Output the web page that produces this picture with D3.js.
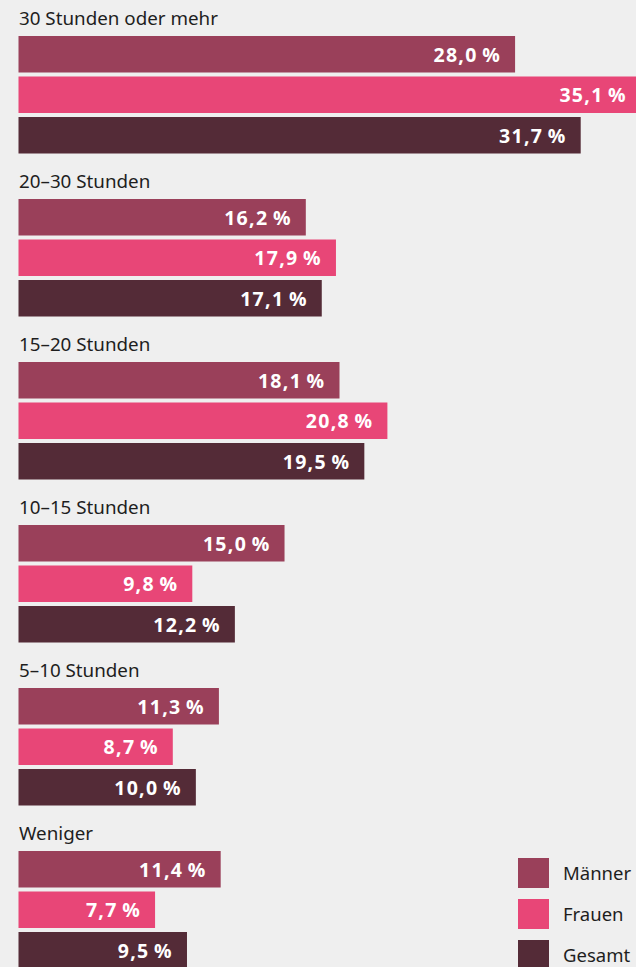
<!DOCTYPE html>
<html>
<head>
<meta charset="utf-8">
<script src="https://cdn.jsdelivr.net/npm/d3@7"></script>
<style>
  html, body { margin: 0; padding: 0; background: #efefef; }
  svg { display: block; }
</style>
</head>
<body>
<div id="chart"></div>
<script>
var categories = ["30 Stunden oder mehr", "20–30 Stunden", "15–20 Stunden", "10–15 Stunden", "5–10 Stunden", "Weniger"];
var series = ["Männer", "Frauen", "Gesamt"];
var maenner = [28.0, 16.2, 18.1, 15.0, 11.3, 11.4];
var frauen = [35.1, 17.9, 20.8, 9.8, 8.7, 7.7];
var gesamt = [31.7, 17.1, 19.5, 12.2, 10.0, 9.5];
var colors = ["#9a405a", "#e84677", "#542b37"];

window.onload = function() {
	var width = 636, height = 967;

	var svg = d3.select("#chart")
		.append("svg")
		.attr("width", width)
		.attr("height", height);

	var values = [maenner, frauen, gesamt];

	// one band per category, bars inside
	var y = d3.scaleBand()
		.domain(categories)
		.range([36, 36 + 163 * 6])
		.paddingInner(0);

	var x = d3.scaleLinear()
		.domain([0, 35.1])
		.range([18.5, 641]);

	var fmt = function(v) { return d3.format(".1f")(v).replace(".", ",") + "\u2009%"; };

	var groups = svg.selectAll("g.group")
		.data(categories)
		.enter().append("g")
		.attr("class", "group")
		.attr("transform", function(d) { return "translate(0," + y(d) + ")"; });

	groups.append("text")
		.attr("x", 19)
		.attr("y", -11)
		.attr("font-family", "'Noto Sans', sans-serif")
		.attr("font-size", 18.8)
		.attr("fill", "#1e1e1e")
		.text(function(d) { return d; });

	groups.each(function(cat, ci) {
		var g = d3.select(this);
		series.forEach(function(s, si) {
			var v = values[si][ci];
			var top = si * 40.5;
			g.append("rect")
				.attr("x", x(0))
				.attr("y", top)
				.attr("width", x(v) - x(0))
				.attr("height", 36.5)
				.attr("fill", colors[si]);
			g.append("text")
				.attr("x", x(v) - 14)
				.attr("y", top + 25.5)
				.attr("text-anchor", "end")
				.attr("font-family", "'Open Sans', sans-serif")
				.attr("font-weight", "bold")
				.attr("font-size", 19.5)
				.attr("letter-spacing", 1.3)
				.attr("fill", "#fff")
				.text(fmt(v));
		});
	});

	// legend
	var legend = svg.selectAll("g.legend")
		.data(series)
		.enter().append("g")
		.attr("class", "legend")
		.attr("transform", function(d, i) { return "translate(518," + (858 + i * 41) + ")"; });

	legend.append("rect")
		.attr("width", 31)
		.attr("height", 30)
		.attr("fill", function(d, i) { return colors[i]; });

	legend.append("text")
		.attr("x", 45)
		.attr("y", 22)
		.attr("font-family", "'Noto Sans', sans-serif")
		.attr("font-size", 18.5)
		.attr("fill", "#1e1e1e")
		.text(function(d) { return d; });
};
</script>
</body>
</html>
